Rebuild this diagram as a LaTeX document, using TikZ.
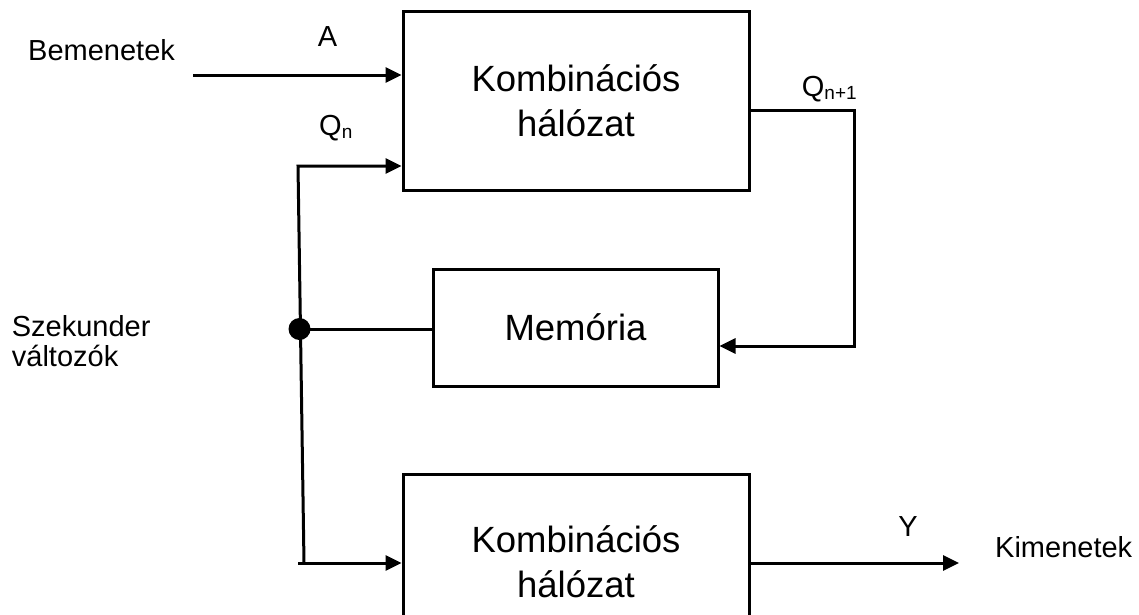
\documentclass[tikz,border=0pt]{standalone}
\usepackage{fontspec}
\setmainfont{Liberation Sans}
\usetikzlibrary{arrows.meta,calc}
\begin{document}
\begin{tikzpicture}[x=1pt,y=-1pt,
  blk/.style={draw,line width=3pt,inner sep=0pt,align=center,font=\fontsize{36.5}{45}\selectfont},
  wire/.style={line width=3pt},
  arr/.style={wire,-{Triangle[length=16pt,width=15pt]}},
  lbl/.style={inner sep=0pt,font=\fontsize{29}{30}\selectfont}]
\useasboundingbox (0,0) rectangle (1139,614);
\clip (0,0) rectangle (1139,614);
% blocks
\node[blk,minimum width=346pt,minimum height=179pt] (k1) at (576,100.5) {Kombinációs\\hálózat};
\node[blk,minimum width=285pt,minimum height=117pt] (mem) at (575.5,327.5) {Memória};
\node[blk,minimum width=346pt,minimum height=176pt] (k2) at (576,562) {Kombinációs\\hálózat};
% coordinates
\coordinate (ain) at (193,75);
\coordinate (qtop) at (298,166);
\coordinate (qbot) at (304,563);
\coordinate (bl) at (298,563);
\coordinate (qr) at (854,110);
\coordinate (qm) at (854,346);
\coordinate (yend) at (959,563);
\node[circle,fill,inner sep=0pt,minimum size=22pt] (dot) at (299.5,329) {};
% connectors
\draw[arr] (ain) -- (ain -| k1.west);
\draw[arr] (qbot) -- (qtop) -- (qtop -| k1.west);
\draw[arr] (bl) -- (bl -| k2.west);
\draw[wire] (dot.center) -- (dot.center -| mem.west);
\draw[arr,line join=miter] (qr -| k1.east) -- (qr) -- (qm) -- (qm -| mem.east);
\draw[arr] (yend -| k2.east) -- (yend);
% labels
\node[lbl,anchor=base west] (bem) at (28,60) {Bemenetek};
\node[lbl,anchor=base] (la) at (327.5,46) {A};
\node[lbl,anchor=base west] (lqn) at (319,135) {Q\raisebox{-3pt}{\fontsize{19}{20}\selectfont n}};
\node[lbl,anchor=base west] (lqn1) at (801.7,96) {Q\raisebox{-3pt}{\fontsize{19}{20}\selectfont n+1}};
\node[lbl,anchor=base west] (szek) at (11.7,336.7) {Szekunder};
\node[lbl,anchor=base west] (valt) at (11.7,366.7) {változók};
\node[lbl,anchor=base] (ly) at (908,536) {Y};
\node[lbl,anchor=base west] (kim) at (995,557) {Kimenetek};
\end{tikzpicture}
\end{document}
